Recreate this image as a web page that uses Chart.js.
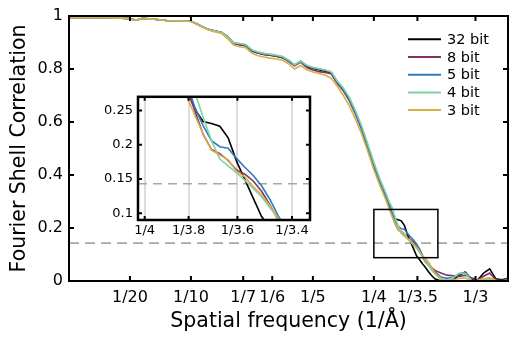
<!DOCTYPE html>
<html><head><meta charset="utf-8">
<script src="https://cdn.jsdelivr.net/npm/chart.js@4/dist/chart.umd.min.js"></script>
<style>
html,body{margin:0;padding:0;background:#fff;}
#wrap{position:relative;width:518px;height:341px;overflow:hidden;}
canvas{position:absolute;}
#main{left:0;top:0;}
#inset{left:80px;top:84px;}
</style>
</head><body>
<div id="wrap"><canvas id="main" width="518" height="341"></canvas><canvas id="inset" width="240" height="156"></canvas></div>
<script>
// ---- data ----
const freq = [0,0.01,0.02,0.03,0.04,0.05,0.055,0.06,0.07,0.08,0.09,0.1,0.105,0.11,0.115,0.12,0.125,0.13,0.135,0.14,0.145,0.15,0.155,0.16,0.165,0.17,0.175,0.18,0.185,0.19,0.195,0.2,0.205,0.21,0.215,0.22,0.225,0.23,0.235,0.24,0.245,0.25,0.255,0.26,0.2625,0.265,0.2675,0.27,0.2725,0.275,0.2775,0.28,0.2825,0.285,0.2875,0.29,0.2925,0.295,0.2975,0.3,0.305,0.31,0.315,0.32,0.325,0.33,0.335,0.34,0.345,0.35,0.355,0.36];

const fsc32bit = [0.995,0.995,0.995,0.994,0.993,0.99,0.984,0.991,0.988,0.983,0.981,0.98,0.97,0.958,0.948,0.943,0.938,0.922,0.897,0.892,0.888,0.868,0.86,0.855,0.852,0.848,0.843,0.83,0.814,0.829,0.81,0.802,0.797,0.792,0.785,0.748,0.72,0.683,0.632,0.575,0.505,0.435,0.372,0.315,
  0.29,0.252,0.234,0.231,0.227,0.21,0.176,0.149,0.122,0.095,0.08,0.064,0.05,0.034,0.02,0.008,0.0,0.0,0.004,0.022,0.034,0.006,0.003,0.03,0.046,0.008,0.005,0.01];
const fsc8bit = [0.995,0.995,0.995,0.994,0.993,0.99,0.984,0.991,0.988,0.983,0.981,0.98,0.97,0.958,0.948,0.943,0.938,0.922,0.897,0.892,0.888,0.868,0.86,0.855,0.852,0.848,0.843,0.83,0.812,0.826,0.805,0.796,0.79,0.787,0.782,0.746,0.718,0.68,0.63,0.573,0.503,0.433,0.37,0.31,
  0.283,0.25,0.215,0.193,0.187,0.177,0.163,0.157,0.147,0.132,0.112,0.09,0.072,0.058,0.05,0.04,0.03,0.022,0.02,0.017,0.022,0.012,0.004,0.018,0.03,0.004,0.002,0.008];
const fsc5bit = [0.995,0.995,0.995,0.994,0.993,0.99,0.984,0.991,0.988,0.983,0.981,0.98,0.97,0.958,0.948,0.943,0.938,0.922,0.898,0.895,0.891,0.871,0.863,0.858,0.855,0.851,0.846,0.833,0.815,0.829,0.813,0.805,0.8,0.795,0.788,0.751,0.722,0.685,0.635,0.578,0.508,0.438,0.375,0.318,
  0.29,0.255,0.228,0.206,0.197,0.195,0.18,0.167,0.155,0.14,0.12,0.096,0.076,0.06,0.046,0.035,0.015,0.01,0.014,0.026,0.033,0.004,0.0,0.006,0.01,0.002,0.0,0.004];
const fsc4bit = [0.995,0.995,0.995,0.994,0.993,0.99,0.984,0.991,0.988,0.983,0.981,0.98,0.97,0.958,0.948,0.943,0.938,0.922,0.899,0.896,0.892,0.872,0.864,0.859,0.856,0.852,0.847,0.834,0.816,0.83,0.814,0.806,0.801,0.796,0.79,0.755,0.728,0.692,0.642,0.585,0.518,0.448,0.385,0.33,
  0.3,0.277,0.24,0.206,0.179,0.169,0.159,0.148,0.136,0.124,0.108,0.093,0.075,0.058,0.04,0.028,0.01,0.004,0.012,0.03,0.028,0.002,0.0,0.004,0.006,0.0,0.0,0.003];
const fsc3bit = [0.995,0.995,0.995,0.994,0.993,0.989,0.983,0.991,0.988,0.983,0.981,0.979,0.969,0.956,0.946,0.94,0.934,0.915,0.89,0.884,0.88,0.86,0.85,0.845,0.841,0.838,0.833,0.82,0.8,0.813,0.797,0.789,0.783,0.777,0.765,0.735,0.7,0.66,0.61,0.555,0.49,0.42,0.36,0.305,
  0.272,0.243,0.216,0.192,0.185,0.178,0.161,0.153,0.139,0.127,0.111,0.092,0.085,0.07,0.05,0.03,0.006,0.0,0.004,0.01,0.012,0.0,0.003,0.008,0.012,0.002,0.0,0.002];

const seriesNames = ['32 bit','8 bit','5 bit','4 bit','3 bit'];
const seriesValues = [fsc32bit, fsc8bit, fsc5bit, fsc4bit, fsc3bit];
const seriesColors = ['#000000','#86305f','#3278bd','#7fd3a6','#d6b04a'];

const xTickValues = [1/20,1/10,1/7,1/6,1/5,1/4,1/3.5,1/3];
const xTickLabels = ['1/20','1/10','1/7','1/6','1/5','1/4','1/3.5','1/3'];
const yTickValues = [0,0.2,0.4,0.6,0.8,1];
const yTickLabels = ['0','0.2','0.4','0.6','0.8','1'];
const threshold = 0.143;
const zoomFreq = [0.25, 0.3025];
const zoomFsc = [0.088, 0.27];

const insetXTickValues = [1/4,1/3.8,1/3.6,1/3.4];
const insetXTickLabels = ['1/4','1/3.8','1/3.6','1/3.4'];
const insetYTickValues = [0.1,0.15,0.2,0.25];
const insetYTickLabels = ['0.1','0.15','0.2','0.25'];
const insetXRange = [0.248, 0.2995];
const insetYRange = [0.09, 0.27];

// ---- chart ----
Chart.defaults.font.family = 'DejaVu Sans';
Chart.defaults.color = '#000';

function makeDatasets(width){
  return seriesNames.map((n,i)=>({
    label:n,
    data: freq.map((f,k)=>({x:f,y:seriesValues[i][k]})),
    borderColor: seriesColors[i],
    backgroundColor: seriesColors[i],
    borderWidth: width,
    pointRadius: 0,
    tension: 0,
    fill:false,
    order: seriesNames.length-1-i
  }));
}

function inwardTicks(ctx, a, xs, ys, xv, yv, len){
  ctx.beginPath();
  xv.forEach(v=>{const p=xs.getPixelForValue(v); ctx.moveTo(p,a.bottom); ctx.lineTo(p,a.bottom-len); ctx.moveTo(p,a.top); ctx.lineTo(p,a.top+len);});
  yv.forEach(v=>{const p=ys.getPixelForValue(v); ctx.moveTo(a.left,p); ctx.lineTo(a.left+len,p); ctx.moveTo(a.right,p); ctx.lineTo(a.right-len,p);});
  ctx.stroke();
}

const mainDecor = {
  id:'mainDecor',
  beforeDatasetsDraw(chart){
    const {ctx, chartArea:a, scales:{x,y}} = chart;
    ctx.save();
    ctx.strokeStyle='#a8a8a8'; ctx.lineWidth=1.6; ctx.setLineDash([10,6]);
    const yy=y.getPixelForValue(threshold);
    ctx.beginPath(); ctx.moveTo(a.left,yy); ctx.lineTo(a.right,yy); ctx.stroke();
    ctx.restore();
  },
  afterDatasetsDraw(chart){
    const {ctx, chartArea:a, scales:{x,y}} = chart;
    ctx.save();
    ctx.strokeStyle='#000'; ctx.lineWidth=2; ctx.lineCap='butt';
    inwardTicks(ctx,a,x,y,xTickValues,yTickValues,5);
    ctx.strokeRect(a.left,a.top,a.width,a.height);
    // zoom rectangle
    ctx.lineWidth=1.5;
    const x0=x.getPixelForValue(zoomFreq[0]), x1=x.getPixelForValue(zoomFreq[1]);
    const y0=y.getPixelForValue(zoomFsc[1]), y1=y.getPixelForValue(zoomFsc[0]);
    ctx.strokeRect(x0,y0,x1-x0,y1-y0);
    // legend
    const lx0=a.right-100, lx1=a.right-67, tx=a.right-61;
    ctx.font='14.5px "DejaVu Sans"'; ctx.textBaseline='middle'; ctx.textAlign='left';
    seriesNames.forEach((n,i)=>{
      const ly=a.top+23.3+i*17.7;
      ctx.strokeStyle=seriesColors[i]; ctx.lineWidth=2;
      ctx.beginPath(); ctx.moveTo(lx0,ly); ctx.lineTo(lx1,ly); ctx.stroke();
      ctx.fillStyle='#000'; ctx.fillText(n,tx,ly+1);
    });
    ctx.restore();
  }
};

new Chart(document.getElementById('main'),{
  type:'line',
  data:{datasets:makeDatasets(1.6)},
  options:{
    responsive:false, animation:false, devicePixelRatio:1,
    layout:{padding:{top:16,right:10,left:0,bottom:0}},
    plugins:{legend:{display:false},tooltip:{enabled:false}},
    scales:{
      x:{type:'linear',min:0,max:0.36,
        afterBuildTicks:s=>{s.ticks=xTickValues.map(v=>({value:v}));},
        afterFit:s=>{s.height=60;},
        ticks:{autoSkip:false,maxRotation:0,padding:7,font:{size:16},color:'#000',
          callback:(v,i)=>xTickLabels[i]},
        grid:{display:false,drawTicks:false},
        border:{display:false},
        title:{display:true,text:'Spatial frequency (1/Å)',font:{size:20.5},color:'#000',padding:{top:0,bottom:7}}
      },
      y:{type:'linear',min:0,max:1,
        afterBuildTicks:s=>{s.ticks=yTickValues.map(v=>({value:v}));},
        afterFit:s=>{s.width=69;},
        ticks:{padding:6,font:{size:16},color:'#000',callback:(v,i)=>yTickLabels[i]},
        grid:{display:false,drawTicks:false},
        border:{display:false},
        title:{display:true,text:'Fourier Shell Correlation',font:{size:20.5},color:'#000',padding:{top:7,bottom:0}}
      }
    }
  },
  plugins:[mainDecor]
});

const insetDecor = {
  id:'insetDecor',
  beforeDraw(chart){
    const {ctx, chartArea:a} = chart;
    ctx.save(); ctx.fillStyle='#fff'; ctx.fillRect(a.left,a.top,a.width,a.height); ctx.restore();
  },
  beforeDatasetsDraw(chart){
    const {ctx, chartArea:a, scales:{x,y}} = chart;
    ctx.save();
    ctx.strokeStyle='#a8a8a8'; ctx.lineWidth=1.6; ctx.setLineDash([9,6]);
    const yy=y.getPixelForValue(threshold);
    ctx.beginPath(); ctx.moveTo(a.left,yy); ctx.lineTo(a.right,yy); ctx.stroke();
    ctx.restore();
  },
  afterDatasetsDraw(chart){
    const {ctx, chartArea:a, scales:{x,y}} = chart;
    ctx.save();
    ctx.strokeStyle='#000'; ctx.lineWidth=2;
    inwardTicks(ctx,a,x,y,insetXTickValues,insetYTickValues,4);
    ctx.lineWidth=2.5;
    ctx.strokeRect(a.left,a.top,a.width,a.height);
    ctx.restore();
  }
};

new Chart(document.getElementById('inset'),{
  type:'line',
  data:{datasets:makeDatasets(1.6)},
  options:{
    responsive:false, animation:false, devicePixelRatio:1,
    layout:{padding:{top:8,right:10,left:0,bottom:0}},
    plugins:{legend:{display:false},tooltip:{enabled:false}},
    scales:{
      x:{type:'linear',min:insetXRange[0],max:insetXRange[1],
        afterBuildTicks:s=>{s.ticks=insetXTickValues.map(v=>({value:v}));},
        afterFit:s=>{s.height=20;},
        ticks:{autoSkip:false,maxRotation:0,padding:3,font:{size:13},color:'#000',
          callback:(v,i)=>insetXTickLabels[i]},
        grid:{display:true,drawTicks:false,color:'#dcdcdc',lineWidth:2},
        border:{display:false}
      },
      y:{type:'linear',min:insetYRange[0],max:insetYRange[1],
        afterBuildTicks:s=>{s.ticks=insetYTickValues.map(v=>({value:v}));},
        afterFit:s=>{s.width=58;},
        ticks:{padding:5,font:{size:13},color:'#000',callback:(v,i)=>insetYTickLabels[i]},
        grid:{display:false,drawTicks:false},
        border:{display:false}
      }
    }
  },
  plugins:[insetDecor]
});
</script>
</body></html>
